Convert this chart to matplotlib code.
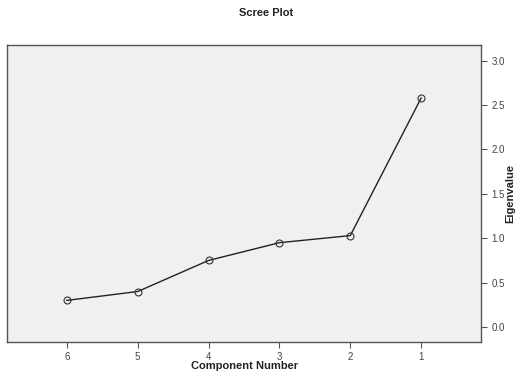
import matplotlib
matplotlib.use('Agg')
import matplotlib.pyplot as plt

plt.rcParams['font.family'] = ['Liberation Sans', 'DejaVu Sans']

component = [1, 2, 3, 4, 5, 6]
eigenvalue = [2.58, 1.03, 0.95, 0.75, 0.40, 0.30]
y_ticks = [0.0, 0.5, 1.0, 1.5, 2.0, 2.5, 3.0]

fig = plt.figure(figsize=(5.24, 3.79), dpi=100)
ax = fig.add_axes([0.014, 0.0985, 0.904, 0.7835])
ax.set_facecolor('#f0f0f0')

ax.plot(component, eigenvalue, color='#222222', linewidth=1.0,
        marker='o', markersize=5, markerfacecolor='none',
        markeredgecolor='#333333', markeredgewidth=0.8)

# mirrored layout: component 1 on the right, value axis on the right
ax.set_xlim(6.84, 0.155)
ax.set_ylim(-0.165, 3.18)
ax.set_xticks(component)
ax.set_yticks(y_ticks)
ax.set_yticklabels(['%.1f' % v for v in y_ticks])
ax.yaxis.tick_right()

for s in ax.spines.values():
    s.set_color('#555555')
    s.set_linewidth(1.0)
ax.tick_params(axis='both', colors='#555555', labelcolor='#444444',
               labelsize=7, length=4, width=0.8)

fig.text(0.467, 0.034, 'Component Number', ha='center', va='center',
         fontsize=8, fontweight='bold', color='#222222')
fig.text(0.974, 0.49, 'Eigenvalue', ha='center', va='center', rotation=90,
         fontsize=8, fontweight='bold', color='#222222')
fig.text(0.507, 0.967, 'Scree Plot', ha='center', va='center',
         fontsize=8, fontweight='bold', color='#222222')

fig.savefig('out.png', dpi=100)
